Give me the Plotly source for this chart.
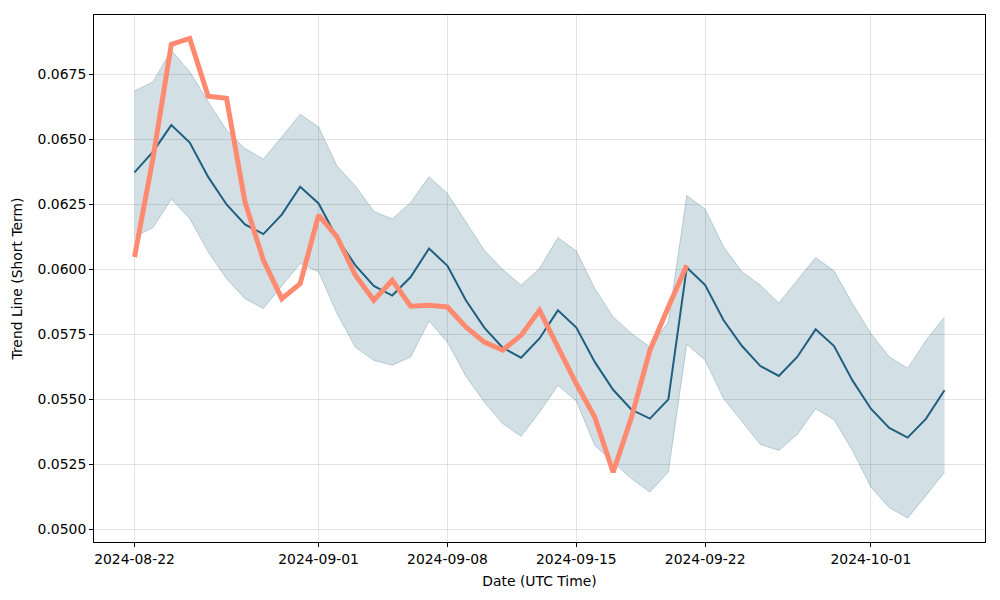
import pandas as pd
import plotly.graph_objects as go

start_date = "2024-08-22"
n_days = 45
dates = pd.date_range(start_date, periods=n_days, freq="D")

trend_mean = [0.06372, 0.06451, 0.06554, 0.06487, 0.06355, 0.06249, 0.06172, 0.06135, 0.06210, 0.06317,
              0.06253, 0.06120, 0.06015, 0.05936, 0.05899, 0.05970, 0.06080, 0.06013, 0.05881, 0.05776,
              0.05699, 0.05660, 0.05734, 0.05842, 0.05776, 0.05644, 0.05537, 0.05460, 0.05426, 0.05500,
              0.06007, 0.05939, 0.05804, 0.05705, 0.05628, 0.05590, 0.05663, 0.05769, 0.05705, 0.05573,
              0.05464, 0.05390, 0.05353, 0.05426, 0.05535]

trend_upper = [0.06685, 0.06720, 0.06842, 0.06759, 0.06644, 0.06535, 0.06464, 0.06423, 0.06509, 0.06596,
               0.06547, 0.06397, 0.06320, 0.06223, 0.06193, 0.06257, 0.06355, 0.06291, 0.06182, 0.06073,
               0.05999, 0.05939, 0.06003, 0.06122, 0.06070, 0.05926, 0.05817, 0.05753, 0.05701, 0.05797,
               0.06283, 0.06231, 0.06086, 0.05990, 0.05939, 0.05870, 0.05958, 0.06045, 0.05994, 0.05868,
               0.05753, 0.05663, 0.05620, 0.05727, 0.05817]

trend_lower = [0.06124, 0.06160, 0.06269, 0.06195, 0.06067, 0.05964, 0.05887, 0.05849, 0.05936, 0.06022,
               0.05990, 0.05830, 0.05700, 0.05650, 0.05631, 0.05663, 0.05801, 0.05720, 0.05589, 0.05490,
               0.05407, 0.05358, 0.05451, 0.05554, 0.05494, 0.05323, 0.05259, 0.05195, 0.05144, 0.05221,
               0.05712, 0.05650, 0.05503, 0.05413, 0.05327, 0.05304, 0.05365, 0.05464, 0.05422, 0.05304,
               0.05163, 0.05084, 0.05044, 0.05131, 0.05220]

price_days = 31
price = [0.06047, 0.06425, 0.06864, 0.06887, 0.06665, 0.06657, 0.06259, 0.06035, 0.05887, 0.05945,
         0.06208, 0.06124, 0.05977, 0.05881, 0.05958, 0.05858, 0.05862, 0.05855, 0.05778, 0.05720,
         0.05689, 0.05746, 0.05842, 0.05701, 0.05560, 0.05432, 0.05220, 0.05432, 0.05689, 0.05855,
         0.06015]

y_ticks = [0.0500, 0.0525, 0.0550, 0.0575, 0.0600, 0.0625, 0.0650, 0.0675]
x_ticks = ["2024-08-22", "2024-09-01", "2024-09-08", "2024-09-15", "2024-09-22", "2024-10-01"]

band_color = "rgba(31,94,127,0.2)"
edge_color = "rgba(31,94,127,0.25)"
mean_color = "#1f5f7f"
price_color = "#ff8a70"

fig = go.Figure()
fig.add_trace(go.Scatter(x=dates, y=trend_upper, mode="lines",
                         line=dict(color=edge_color, width=1), showlegend=False, hoverinfo="skip"))
fig.add_trace(go.Scatter(x=dates, y=trend_lower, mode="lines", fill="tonexty", fillcolor=band_color,
                         line=dict(color=edge_color, width=1), showlegend=False, hoverinfo="skip"))
fig.add_trace(go.Scatter(x=dates, y=trend_mean, mode="lines",
                         line=dict(color=mean_color, width=2), showlegend=False))
fig.add_trace(go.Scatter(x=dates[:price_days], y=price, mode="lines",
                         line=dict(color=price_color, width=5), showlegend=False))

x0 = pd.Timestamp(start_date) - pd.Timedelta(days=2.2)
x1 = pd.Timestamp(start_date) + pd.Timedelta(days=46.2)

axis_common = dict(showline=True, linecolor="black", linewidth=1, mirror=True,
                   ticks="outside", ticklen=4, tickcolor="black", tickwidth=1,
                   showgrid=True, gridcolor="rgba(176,176,176,0.35)", gridwidth=1,
                   zeroline=False, tickfont=dict(size=13.9, color="black"))

fig.update_layout(
    width=1000, height=600,
    margin=dict(l=86, r=23, t=7, b=66),
    paper_bgcolor="white", plot_bgcolor="white",
    font=dict(family="DejaVu Sans", size=13.9, color="black"),
    xaxis=dict(range=[x0, x1], tickvals=pd.to_datetime(x_ticks), ticktext=x_ticks,
               title=dict(text="Date (UTC Time)", font=dict(size=13.9), standoff=10), **axis_common),
    yaxis=dict(range=[0.04952, 0.06977], tickvals=y_ticks, tickformat=".4f",
               title=dict(text="Trend Line (Short Term)", font=dict(size=13.9), standoff=11), **axis_common),
)

fig.write_html("out.html")
